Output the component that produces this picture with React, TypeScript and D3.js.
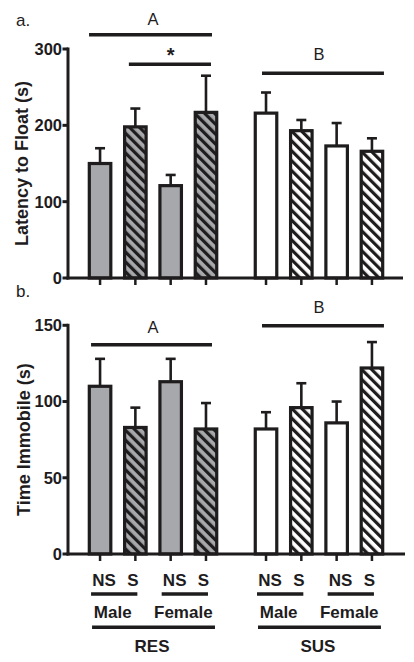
import React from "react";
import * as d3 from "d3";

const groups = ["RES", "SUS"];
const conditions = ["Male NS", "Male S", "Female NS", "Female S"];
const sexes = ["Male", "Female"];
const stressLabels = ["NS", "S"];

const latencyMean = [150, 198, 121, 217, 216, 193, 173, 166];
const latencySem = [20, 24, 14, 48, 27, 14, 30, 17];
const latencyTicks = [0, 100, 200, 300];

const immobileMean = [110, 83, 113, 82, 82, 96, 86, 122];
const immobileSem = [18, 13, 15, 17, 11, 16, 14, 17];
const immobileTicks = [0, 50, 100, 150];

const GRAY = "#a7a8ab";
const INK = "#1e1c1d";
const FONT = "'Liberation Sans', Arial, Helvetica, sans-serif";

const outer = d3.scaleBand<string>().domain(groups).range([82.4, 389.6]).paddingInner(0.149).paddingOuter(0);
const inner = d3.scaleBand<string>().domain(conditions).range([0, outer.bandwidth()]);
const xc = (i: number) => {
  const g = groups[Math.floor(i / 4)];
  const c = conditions[i % 4];
  return (outer(g) as number) + (inner(c) as number) + inner.bandwidth() / 2;
};
const BAR_W = 21.5;

function Panel({ means, sems, ticks, y0, y1, maxV, title, titleX, hatchId, axisEnd }: any) {
  const y = d3.scaleLinear().domain([0, maxV]).range([y0, y1]);
  return (
    <g>
      {means.map((m: number, i: number) => {
        const x = xc(i);
        const hatched = i % 2 === 1;
        const base = i < 4 ? GRAY : "#ffffff";
        const top = y(m + sems[i]);
        return (
          <g key={i}>
            <line x1={x} x2={x} y1={y(m)} y2={top} stroke={INK} strokeWidth={2.6} />
            <line x1={x - 5} x2={x + 5} y1={top} y2={top} stroke={INK} strokeWidth={2.6} />
            <rect x={x - BAR_W / 2} y={y(m)} width={BAR_W} height={y(0) - y(m)} fill={base} />
            {hatched && (
              <rect x={x - BAR_W / 2} y={y(m)} width={BAR_W} height={y(0) - y(m)} fill={`url(#${hatchId})`} />
            )}
            <rect x={x - BAR_W / 2} y={y(m)} width={BAR_W} height={y(0) - y(m)} fill="none" stroke={INK} strokeWidth={3.2} />
          </g>
        );
      })}
      {/* y axis */}
      <line x1={68} x2={68} y1={y(maxV) - 1.5} y2={y(0) + 1.5} stroke={INK} strokeWidth={3} />
      {ticks.map((t: number) => (
        <g key={t}>
          <line x1={62.5} x2={68} y1={y(t)} y2={y(t)} stroke={INK} strokeWidth={3} />
          <text x={62} y={y(t)} dy="0.36em" textAnchor="end" fontFamily={FONT} fontWeight="bold" fontSize={16.5} fill={INK}>
            {t}
          </text>
        </g>
      ))}
      {/* x axis */}
      <line x1={66.5} x2={axisEnd} y1={y(0)} y2={y(0)} stroke={INK} strokeWidth={3} />
      {means.map((_: number, i: number) => (
        <line key={i} x1={xc(i)} x2={xc(i)} y1={y(0)} y2={y(0) + 7} stroke={INK} strokeWidth={2.5} />
      ))}
      <text
        transform={`translate(${titleX},${(y0 + y1) / 2}) rotate(-90)`}
        textAnchor="middle"
        fontFamily={FONT}
        fontWeight="bold"
        fontSize={18}
        fill={INK}
      >
        {title}
      </text>
    </g>
  );
}

export default function App() {
  const hatch = (id: string) => (
    <pattern id={id} patternUnits="userSpaceOnUse" width={7} height={7} patternTransform="rotate(-45)">
      <rect x={0} y={0} width={3.2} height={7} fill={INK} />
    </pattern>
  );
  const ann = (x1: number, x2: number, yy: number) => (
    <line x1={x1} x2={x2} y1={yy} y2={yy} stroke={INK} strokeWidth={3.4} />
  );
  return (
    <svg width={414} height={662} style={{ position: "absolute", left: 0, top: 0, background: "#fff" }}>
      <defs>{hatch("hatchA")}{hatch("hatchB")}</defs>
      <rect width={414} height={662} fill="#fff" />

      {/* panel a */}
      <text x={16} y={26} fontFamily={FONT} fontSize={17} fill={INK}>a.</text>
      <Panel means={latencyMean} sems={latencySem} ticks={latencyTicks} y0={278} y1={49} maxV={300}
        title="Latency to Float (s)" titleX={28} hatchId="hatchA" axisEnd={403} />
      <text x={(xc(0) + xc(3)) / 2} y={25} textAnchor="middle" fontFamily={FONT} fontSize={16.5} fill={INK}>A</text>
      {ann(xc(0) - 11, xc(3) + 6, 34.7)}
      <text x={(xc(1) + xc(3)) / 2} y={62} textAnchor="middle" fontFamily={FONT} fontWeight="bold" fontSize={20} fill={INK}>*</text>
      {ann(xc(1) - 6.5, xc(3) + 5, 64.3)}
      <text x={(xc(4) + xc(7)) / 2} y={59.5} textAnchor="middle" fontFamily={FONT} fontSize={16.5} fill={INK}>B</text>
      {ann(xc(4) - 4, xc(7) + 12, 73.3)}

      {/* panel b */}
      <text x={16} y={297} fontFamily={FONT} fontSize={17} fill={INK}>b.</text>
      <Panel means={immobileMean} sems={immobileSem} ticks={immobileTicks} y0={554} y1={325.3} maxV={150}
        title="Time Immobile (s)" titleX={30} hatchId="hatchB" axisEnd={405} />
      <text x={(xc(4) + xc(7)) / 2} y={312.7} textAnchor="middle" fontFamily={FONT} fontSize={16.5} fill={INK}>B</text>
      {ann(xc(4) - 4, xc(7) + 12, 325.7)}
      <text x={(xc(0) + xc(3)) / 2} y={332.7} textAnchor="middle" fontFamily={FONT} fontSize={16.5} fill={INK}>A</text>
      {ann(xc(0) - 9, xc(3) + 6, 344.7)}

      {/* category labels */}
      {[0, 2, 4, 6].map((i, k) => (
        <g key={i}>
          <text x={xc(i) + 4} y={586} textAnchor="middle" fontFamily={FONT} fontWeight="bold" fontSize={17} fill={INK}>{stressLabels[0]}</text>
          <text x={xc(i + 1) - 2.5} y={586} textAnchor="middle" fontFamily={FONT} fontWeight="bold" fontSize={17} fill={INK}>{stressLabels[1]}</text>
          {ann(xc(i) - 9, xc(i + 1) + 2, 594)}
          <text x={(xc(i) + xc(i + 1)) / 2 - 5} y={618.3} textAnchor="middle" fontFamily={FONT} fontWeight="bold" fontSize={17} fill={INK}>{sexes[k % 2]}</text>
        </g>
      ))}
      {groups.map((g, gi) => {
        const a = xc(gi * 4);
        const b = xc(gi * 4 + 3);
        return (
          <g key={g}>
            {ann(a - 8, b + 9, 627.3)}
            <text x={(a + b) / 2 - 1} y={652.3} textAnchor="middle" fontFamily={FONT} fontWeight="bold" fontSize={17} fill={INK}>{g}</text>
          </g>
        );
      })}
    </svg>
  );
}
